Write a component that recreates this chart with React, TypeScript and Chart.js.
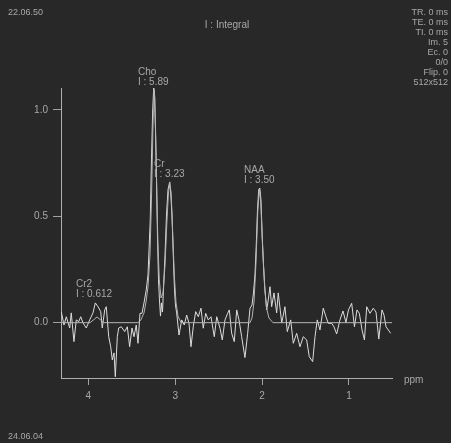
import React, { useEffect, useRef } from "react";
import { Chart, registerables } from "chart.js";

Chart.register(...registerables);

// Measured spectrum (ppm, intensity)
const spectrumPpm = [
  4.311, 4.28, 4.253, 4.214, 4.196, 4.165, 4.138, 4.11, 4.087, 4.061,
  4.023, 3.984, 3.946, 3.919, 3.888, 3.857, 3.839, 3.811, 3.793, 3.765,
  3.742, 3.724, 3.704, 3.689, 3.666, 3.65, 3.62, 3.581, 3.551, 3.524,
  3.497, 3.474, 3.448, 3.428, 3.405, 3.382, 3.359, 3.333, 3.313, 3.301,
  3.287, 3.273, 3.259, 3.247, 3.238, 3.227, 3.215, 3.204, 3.192, 3.181,
  3.169, 3.158, 3.146, 3.135, 3.117, 3.1, 3.083, 3.066, 3.054, 3.037,
  3.02, 3.008, 2.997, 2.983, 2.956, 2.925, 2.895, 2.868, 2.841, 2.818,
  2.792, 2.764, 2.734, 2.703, 2.677, 2.649, 2.619, 2.588, 2.55, 2.522,
  2.484, 2.458, 2.427, 2.396, 2.377, 2.35, 2.32, 2.292, 2.266, 2.235,
  2.197, 2.166, 2.139, 2.116, 2.099, 2.082, 2.067, 2.053, 2.039, 2.026,
  2.013, 1.999, 1.984, 1.967, 1.947, 1.929, 1.909, 1.89, 1.863, 1.832,
  1.814, 1.774, 1.737, 1.71, 1.671, 1.641, 1.602, 1.564, 1.526, 1.487,
  1.457, 1.418, 1.391, 1.365, 1.334, 1.296, 1.265, 1.238, 1.199, 1.173,
  1.142, 1.104, 1.069, 1.035, 1.006, 0.969, 0.937, 0.908, 0.881, 0.85,
  0.822, 0.796, 0.758, 0.72, 0.689, 0.657, 0.62, 0.597, 0.574, 0.52,
];
const spectrumValues = [
  0.052, -0.011, 0.028, -0.025, 0.046, -0.089, 0.013, 0.005, 0.028, -0.001,
  -0.025, 0.013, 0.046, 0.093, 0.075, 0.052, -0.025, 0.06, 0.075, -0.066,
  -0.113, -0.175, -0.142, -0.254, -0.066, -0.025, -0.019, -0.042, -0.019, -0.113,
  -0.025, -0.066, -0.011, -0.097, 0.044, 0.044, 0.093, 0.154, 0.224, 0.342,
  0.483, 0.765, 1.0, 1.103, 1.085, 0.906, 0.671, 0.412, 0.201, 0.107,
  0.031, 0.093, 0.05, 0.154, 0.318, 0.506, 0.624, 0.657, 0.624, 0.506,
  0.295, 0.154, 0.083, 0.046, -0.058, 0.013, -0.011, 0.036, -0.003, -0.113,
  -0.019, 0.052, 0.028, 0.068, -0.026, 0.044, 0.013, 0.028, -0.066, 0.028,
  -0.026, -0.081, 0.013, 0.044, 0.06, -0.05, -0.089, 0.06, 0.013, -0.066,
  -0.164, -0.05, 0.068, 0.083, 0.14, 0.224, 0.365, 0.53, 0.624, 0.633,
  0.577, 0.412, 0.271, 0.154, 0.06, 0.107, 0.169, 0.075, 0.14, 0.046,
  0.14, -0.001, 0.075, -0.042, 0.013, -0.097, -0.05, -0.113, -0.066, -0.081,
  -0.16, -0.183, -0.066, 0.013, -0.034, 0.068, 0.028, -0.003, -0.003, -0.019,
  -0.053, 0.013, 0.055, 0.001, 0.06, 0.091, -0.019, 0.06, 0.044, -0.034,
  -0.081, 0.075, 0.044, 0.068, 0.05, -0.077, 0.06, 0.036, -0.019, -0.05,
];

// Fitted curve (ppm, intensity)
const fitPpm = [
  4.314, 3.98, 3.934, 3.9, 3.865, 3.819, 3.428, 3.394, 3.359, 3.336,
  3.313, 3.29, 3.273, 3.261, 3.252, 3.244, 3.235, 3.223, 3.212, 3.2,
  3.183, 3.163, 3.14, 3.117, 3.097, 3.079, 3.062, 3.045, 3.028, 3.01,
  2.991, 2.968, 2.933, 2.139, 2.116, 2.093, 2.07, 2.05, 2.032, 2.015,
  1.995, 1.972, 1.949, 1.921, 1.875, 0.505,
];
const fitValues = [
  0, 0, 0.015, 0.027, 0.015, 0, 0, 0.013, 0.046, 0.097,
  0.168, 0.318, 0.577, 0.812, 1.0, 1.094, 1.056, 0.859, 0.624, 0.389,
  0.201, 0.116, 0.14, 0.271, 0.459, 0.6, 0.662, 0.6, 0.412, 0.224,
  0.097, 0.031, 0, 0, 0.022, 0.097, 0.285, 0.52, 0.629, 0.563,
  0.365, 0.177, 0.069, 0.022, 0, 0,
];

const xTicks = [4, 3, 2, 1];
const yTicks = [0, 0.5, 1.0];

const peakNames = ["Cho", "Cr", "NAA", "Cr2"];
const peakIntegrals = ["5.89", "3.23", "3.50", "0.612"];
const peakPpm = [3.428, 3.244, 2.208, 4.142];
const peakLabelValue = [1.13, 0.698, 0.671, 0.135];

const infoLines = ["TR. 0 ms", "TE. 0 ms", "TI. 0 ms", "Im. 5", "Ec. 0", "0/0", "Flip. 0", "512x512"];
const timeTop = "22.06.50";
const timeBottom = "24.06.04";
const titleText = "I : Integral";
const xUnit = "ppm";

const BG = "#282828";
const TXT = "#a8a8a8";
const FONT = "'Liberation Sans', Arial, sans-serif";

export default function App() {
  const ref = useRef<HTMLCanvasElement | null>(null);

  useEffect(() => {
    if (!ref.current) return;
    const textPlugin = {
      id: "mrsText",
      beforeDraw(chart: any) {
        const c = chart.ctx;
        c.save();
        c.fillStyle = BG;
        c.fillRect(0, 0, chart.width, chart.height);
        c.restore();
      },
      afterDraw(chart: any) {
        const c = chart.ctx;
        const xs = chart.scales.x;
        const ys = chart.scales.y;
        c.save();
        c.fillStyle = TXT;
        c.textBaseline = "middle";
        c.font = `9px ${FONT}`;
        c.textAlign = "left";
        c.fillText(timeTop, 8, 13);
        c.fillText(timeBottom, 8, 437);
        c.textAlign = "right";
        infoLines.forEach((t, i) => c.fillText(t, 448, 13 + i * 10));
        c.font = `10px ${FONT}`;
        c.textAlign = "center";
        c.fillText(titleText, 227, 25);
        c.textAlign = "left";
        c.fillText(xUnit, 404, 380);
        peakNames.forEach((n, i) => {
          const px = xs.getPixelForValue(peakPpm[i]);
          const py = ys.getPixelForValue(peakLabelValue[i]);
          c.fillText(n, px, py - 10);
          c.fillText("I : " + peakIntegrals[i], px, py);
        });
        c.restore();
      },
    };

    const chart = new Chart(ref.current, {
      type: "scatter",
      data: {
        datasets: [
          {
            data: fitPpm.map((x, i) => ({ x, y: fitValues[i] })),
            showLine: true,
            borderColor: "#b4b4b4",
            borderWidth: 1,
            pointRadius: 0,
            tension: 0,
          },
          {
            data: spectrumPpm.map((x, i) => ({ x, y: spectrumValues[i] })),
            showLine: true,
            borderColor: "#dcdcdc",
            borderWidth: 1,
            pointRadius: 0,
            tension: 0,
          },
        ],
      },
      plugins: [textPlugin],
      options: {
        responsive: false,
        animation: false,
        devicePixelRatio: 1,
        layout: { padding: { left: 0, right: 59, top: 88, bottom: 0 } },
        plugins: { legend: { display: false }, tooltip: { enabled: false }, title: { display: false } },
        scales: {
          x: {
            type: "linear",
            reverse: true,
            min: 0.505,
            max: 4.314,
            afterBuildTicks: (s: any) => {
              s.ticks = xTicks.map((v) => ({ value: v }));
            },
            afterFit: (s: any) => {
              s.height = 65;
            },
            ticks: {
              color: TXT,
              font: { size: 10, family: FONT },
              padding: 5,
              callback: (v: any) => String(v),
            },
            grid: { display: true, drawOnChartArea: false, drawTicks: true, tickLength: 7, color: "#a0a0a0" },
            border: { display: true, color: "#b0b0b0", width: 1 },
          },
          y: {
            type: "linear",
            min: -0.26,
            max: 1.103,
            afterBuildTicks: (s: any) => {
              s.ticks = yTicks.map((v) => ({ value: v }));
            },
            afterFit: (s: any) => {
              s.width = 61;
            },
            ticks: {
              color: TXT,
              font: { size: 10, family: FONT },
              padding: 5,
              callback: (v: any) => Number(v).toFixed(1),
            },
            grid: { display: true, drawOnChartArea: false, drawTicks: true, tickLength: 8, color: "#a0a0a0" },
            border: { display: true, color: "#b0b0b0", width: 1 },
          },
        },
      },
    } as any);
    return () => chart.destroy();
  }, []);

  return (
    <div style={{ position: "absolute", left: 0, top: 0, width: 451, height: 443, background: BG, overflow: "hidden" }}>
      <canvas ref={ref} width={451} height={443} style={{ display: "block", width: 451, height: 443 }} />
    </div>
  );
}
